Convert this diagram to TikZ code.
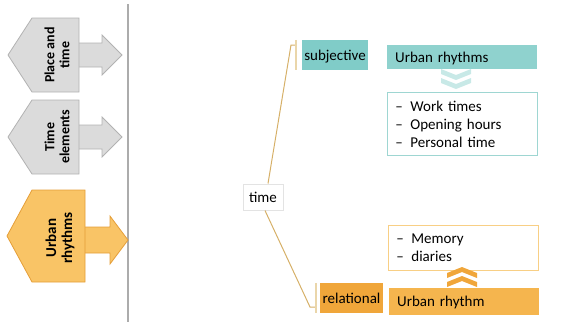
\documentclass[tikz,border=0pt]{standalone}
\usepackage{fontspec}
\setmainfont{Carlito}
\usetikzlibrary{positioning,calc}

\definecolor{tealA}{RGB}{128,204,200}
\definecolor{tealB}{RGB}{143,210,206}
\definecolor{tealC}{RGB}{158,214,210}
\definecolor{tealD}{RGB}{200,233,231}
\definecolor{orngA}{RGB}{240,166,58}
\definecolor{orngB}{RGB}{245,181,78}
\definecolor{orngC}{RGB}{248,207,133}
\definecolor{orngD}{RGB}{249,196,102}
\definecolor{orngE}{RGB}{229,158,56}
\definecolor{linkC}{RGB}{214,176,104}
\definecolor{brkC}{RGB}{234,214,170}

\begin{document}
\begin{tikzpicture}[x=1pt,y=1pt,auto]
                        \tikzstyle{every node}=[inner sep=0,font=\fontsize{15}{18}\selectfont]
                        \tikzstyle{grayshape}=[fill=gray!28,draw=gray!60,line width=0.8]
                        \tikzstyle{orngshape}=[fill=orngD,draw=orngE,line width=0.8]
                        \tikzstyle{side}=[rotate=90,align=center,font=\fontsize{14}{15}\selectfont\bfseries]
                        \tikzstyle{tab}=[minimum height=30,text depth=0pt]
                        \tikzstyle{bar}=[tab,align=left,inner xsep=8,text width=134,anchor=west]
                        \tikzstyle{list}=[draw,fill=white,line width=0.8,align=left,inner xsep=8,text width=134,anchor=north west]
                        \tikzstyle{link}=[draw=linkC,line width=1]
                        \tikzstyle{brk}=[draw=brkC,line width=1.6]
                        \newcommand{\itm}[1]{\makebox[15pt][l]{--}#1}
                        {
                            \useasboundingbox (0,0) rectangle (571,-322);
                            \draw[gray!65,line width=1.4] (128,-4) -- (128,-322);

                            % side tabs
                            \foreach \k/\name/\txt in {0/place/{Place and\\time},1/elem/{Time\\elements}} {
                                \begin{scope}[yshift=-\k*82]
                                    \draw[grayshape] (78,-43) -- (102,-43) -- (102,-35) -- (122,-55) -- (102,-75) -- (102,-67) -- (78,-67);
                                    \draw[grayshape] (8,-55) -- (32,-18) -- (79,-18) -- (79,-92) -- (32,-92) -- cycle;
                                    \node[side] (\name) at (57,-55) {\txt};
                                \end{scope}
                            }
                            \draw[orngshape] (85,-227) -- (110,-227) -- (110,-216) -- (128,-240) -- (110,-264) -- (110,-253) -- (85,-253);
                            \draw[orngshape] (7,-236) -- (32,-190) -- (85,-190) -- (85,-282) -- (32,-282) -- cycle;
                            \node[side,font=\fontsize{15}{16}\selectfont\bfseries] (urban) at (60,-238) {Urban\\rhythms};

                            % tree
                            \node[draw=gray!22,fill=white,line width=1,minimum width=40,minimum height=26] (time) at (263,-197) {time};
                            \node[tab,fill=tealA,minimum width=66] (subj) at (335,-55) {subjective};
                            \node[bar,fill=tealB,minimum height=24] (rhyT) at (387,-57) {Urban rhythms};
                            \node[list,draw=tealC,minimum height=63] (listT) at (387,-92) {\itm{Work times}\\\itm{Opening hours}\\\itm{Personal time}};
                            \foreach \d in {0,9} {
                                \fill[tealD] (441,-69-\d) -- (456,-75-\d) -- (471,-69-\d) -- (471,-74-\d) -- (456,-80-\d) -- (441,-74-\d) -- cycle;
                            }

                            \node[tab,fill=orngA,minimum width=63] (rel) at (351.5,-298) {relational};
                            \node[bar,fill=orngB,minimum height=27] (rhyO) at (389,-301) {Urban rhythm};
                            \node[list,draw=orngC,minimum height=45] (listO) at (388,-225) {\itm{Memory}\\\itm{diaries}};
                            \foreach \d in {0,9} {
                                \fill[orngA] (447,-287+\d) -- (462,-281+\d) -- (477,-287+\d) -- (477,-282+\d) -- (462,-276+\d) -- (447,-282+\d) -- cycle;
                            }

                            \coordinate (subjK) at (291,-45);
                            \coordinate (relK) at (310,-307);
                            \path[link] ([xshift=5]time.north) -- (subjK) -- ++(5,0);
                            \path[link] ([xshift=2]time.south) -- (relK) -- ++(6,0);
                            \path[brk] ([xshift=-6]subj.north west) -- ([xshift=-6]subj.south west);
                            \path[brk] ([xshift=-4]rel.north west) -- ([xshift=-4]rel.south west);
                        }
                    \end{tikzpicture}
\end{document}
